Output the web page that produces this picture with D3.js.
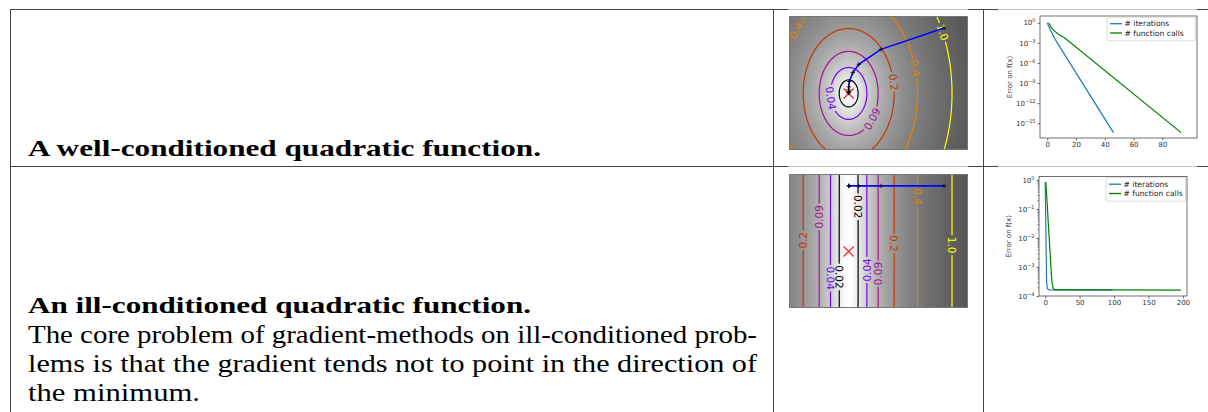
<!DOCTYPE html>
<html>
<head>
<meta charset="utf-8">
<script src="https://cdn.jsdelivr.net/npm/d3@7"></script>
<style>
  body { margin: 0; background: #fff; }
  svg { display: block; }
  .doc { font-family: "Liberation Serif", "Times New Roman", serif; }
</style>
</head>
<body>
<svg id="chart" width="1208" height="412"></svg>
<script>
// ---------------- data ----------------
var rowTitles = ["A well-conditioned quadratic function.", "An ill-conditioned quadratic function."];
var rowBody = [
  "The core problem of gradient-methods on ill-conditioned prob-",
  "lems is that the gradient tends not to point in the direction of",
  "the minimum."
];

// contour levels are taken on log(f + 0.01); f = 0.33 * (x^2 + (eps*y)^2)
var contourLevels = [-4, -3.2, -2.4, -1.6, -0.8, 0];
var contourLabels = ["0.02", "0.04", "0.09", "0.2", "0.4", "1.0"];
var conditioning = [0.7, 0.02];

// gradient descent iterates
var wellPath = [[1.6, 1.1], [0.54, 0.74], [0.17, 0.49], [0.07, 0.35], [0.01, 0.2],
  [0.001, 0.11], [0, 0.06], [0, 0.03], [0, 0.015], [0, 0.007]];
var illPath = [[1.6, 1.1], [0.54, 1.1], [0.17, 1.1], [0.01, 1.1], [0.002, 1.1], [0, 1.1]];

// contour label anchors: [level index, x, y] (snapped onto the contour)
var wellLabelPos = [[4, -0.92, 1.08], [5, 1.58, 1.03], [4, 1.14, 0.43], [3, 0.74, 0.19],
  [2, 0.36, -0.41], [1, -0.31, -0.08]];
var illLabelPos = [[3, -0.78, 0.19], [2, -0.5, 0.58], [0, 0.16, 0.75], [4, 1.14, 0.92],
  [3, 0.78, 0.135], [5, 1.75, 0.107], [2, 0.48, -0.37], [1, 0.29, -0.31],
  [0, -0.12, -0.43], [1, -0.26, -0.45]];

// convergence curves
var legendNames = ["# iterations", "# function calls"];
var wellIterX = [0, 1, 2, 3, 4, 5, 6, 7, 46];
var wellIterErr = [1, 3.2e-1, 1.1e-1, 4e-2, 1.4e-2, 5.6e-3, 2.2e-3, 1e-3, 4e-17];
var wellCallX = [1, 3, 5, 8, 12, 93];
var wellCallErr = [1, 1.8e-1, 6e-2, 1.8e-2, 5.5e-3, 4e-17];
var illIterX = [0, 1, 2, 3, 4, 6, 98];
var illIterErr = [0.85, 2e-2, 3.2e-4, 1.9e-4, 1.7e-4, 1.62e-4, 1.6e-4];
var illCallX = [1, 3, 5, 7, 9, 10, 12, 14, 197];
var illCallErr = [0.85, 0.135, 2.1e-2, 3.4e-3, 5.4e-4, 2.8e-4, 1.74e-4, 1.65e-4, 1.6e-4];

var wellXTicks = [0, 20, 40, 60, 80];
var wellYTicks = [1, 1e-3, 1e-6, 1e-9, 1e-12, 1e-15];
var illXTicks = [0, 50, 100, 150, 200];
var illYTicks = [1, 1e-1, 1e-2, 1e-3, 1e-4];

// ---------------- drawing ----------------
var svg = d3.select("#chart");
var defs = svg.append("defs");

// table rules
var ink = "#444", faint = "#c4c4c4";
[9, 166].forEach(function(y) {
  svg.append("line").attr("x1", 10).attr("x2", 1208).attr("y1", y + 0.5).attr("y2", y + 0.5)
    .attr("stroke", ink).attr("stroke-width", 1);
  [[788, 968], [998, 1197]].forEach(function(s) {
    svg.append("line").attr("x1", s[0]).attr("x2", s[1]).attr("y1", y + 0.5).attr("y2", y + 0.5)
      .attr("stroke", faint).attr("stroke-width", 1);
  });
});
[10, 773, 983].forEach(function(x) {
  svg.append("line").attr("x1", x + 0.5).attr("x2", x + 0.5).attr("y1", 9).attr("y2", 412)
    .attr("stroke", ink).attr("stroke-width", 1);
});

// table text
var tg = svg.append("g").attr("class", "doc").attr("fill", "#000");
tg.append("text").attr("x", 28).attr("y", 156).attr("font-weight", "bold").attr("font-size", 23.5)
  .attr("textLength", 513).attr("lengthAdjust", "spacingAndGlyphs").text(rowTitles[0]);
tg.append("text").attr("x", 28).attr("y", 313).attr("font-weight", "bold").attr("font-size", 23.5)
  .attr("textLength", 503).attr("lengthAdjust", "spacingAndGlyphs").text(rowTitles[1]);
var bodyWidths = [729, 729, 172];
rowBody.forEach(function(s, i) {
  tg.append("text").attr("x", 28).attr("y", 343 + i * 29).attr("font-size", 24.5)
    .attr("textLength", bodyWidths[i]).attr("lengthAdjust", "spacingAndGlyphs").text(s);
});

function gnuplot(t) {
  var r = Math.sqrt(t), g = t * t * t, b = Math.max(0, Math.sin(2 * Math.PI * t));
  return d3.rgb(255 * r, 255 * g, 255 * b).formatHex();
}

function drawContourPanel(id, eps, path, labelPos, box) {
  var g = svg.append("g");
  var sx = d3.scaleLinear().domain([-1, 2]).range([box.x, box.x + box.w]);
  var sy = d3.scaleLinear().domain([-0.95, 1.3]).range([box.y + box.h, box.y]);
  var f = function(x, y) { return 0.33 * (x * x + eps * eps * y * y); };
  var logz = function(x, y) { return Math.log(f(x, y) + 0.01); };

  // grey background (gray_r, vmax = min + 1.5 * ptp)
  var sample = [];
  for (var i = 0; i < 100; i++) for (var j = 0; j < 100; j++)
    sample.push(logz(-1 + i * 3 / 99, -0.95 + j * 2.25 / 99));
  var vmin = d3.min(sample), vmax = vmin + 1.5 * (d3.max(sample) - vmin);
  var canvas = document.createElement("canvas");
  canvas.width = box.w; canvas.height = box.h;
  var ctx = canvas.getContext("2d");
  var img = ctx.createImageData(box.w, box.h);
  for (var py = 0; py < box.h; py++) {
    for (var px = 0; px < box.w; px++) {
      var v = logz(sx.invert(box.x + px + 0.5), sy.invert(box.y + py + 0.5));
      var c = Math.round(255 * (1 - (v - vmin) / (vmax - vmin)));
      var k = 4 * (py * box.w + px);
      img.data[k] = c; img.data[k + 1] = c; img.data[k + 2] = c; img.data[k + 3] = 255;
    }
  }
  ctx.putImageData(img, 0, 0);
  g.append("image").attr("x", box.x).attr("y", box.y).attr("width", box.w).attr("height", box.h)
    .attr("preserveAspectRatio", "none").attr("href", canvas.toDataURL());

  defs.append("clipPath").attr("id", id + "-clip").append("rect")
    .attr("x", box.x).attr("y", box.y).attr("width", box.w).attr("height", box.h);

  // contour lines
  var nx = 300, ny = 230, gx0 = -1.2, gx1 = 2.2, gy0 = 1.5, gy1 = -1.15;
  var dx = (gx1 - gx0) / (nx - 1), dy = (gy1 - gy0) / (ny - 1);
  var values = new Float64Array(nx * ny);
  for (var jj = 0; jj < ny; jj++) for (var ii = 0; ii < nx; ii++)
    values[jj * nx + ii] = logz(gx0 + ii * dx, gy0 + jj * dy);
  var contours = d3.contours().size([nx, ny]).thresholds(contourLevels)(values);
  var proj = d3.geoTransform({ point: function(a, b) {
    this.stream.point(sx(gx0 + (a - 0.5) * dx), sy(gy0 + (b - 0.5) * dy));
  }});
  var geo = d3.geoPath(proj);
  var lvlColor = d3.scaleLinear().domain(d3.extent(contourLevels)).range([0, 1]);

  var mask = defs.append("mask").attr("id", id + "-mask").attr("maskUnits", "userSpaceOnUse")
    .attr("x", box.x).attr("y", box.y).attr("width", box.w).attr("height", box.h);
  mask.append("rect").attr("x", box.x).attr("y", box.y).attr("width", box.w).attr("height", box.h).attr("fill", "white");

  g.append("g").attr("clip-path", "url(#" + id + "-clip)").append("g").attr("mask", "url(#" + id + "-mask)")
    .selectAll("path").data(contours).join("path")
    .attr("d", geo).attr("fill", "none")
    .attr("stroke", function(d) { return gnuplot(lvlColor(d.value)); })
    .attr("stroke-width", 1.2);

  // inline labels
  var kx = sx(1) - sx(0), ky = sy(0) - sy(1);
  var lg = g.append("g").attr("clip-path", "url(#" + id + "-clip)")
    .attr("font-family", "'DejaVu Sans', sans-serif").attr("font-size", 10.5);
  labelPos.forEach(function(p) {
    var target = Math.exp(contourLevels[p[0]]) - 0.01, x = p[1], y = p[2];
    for (var n = 0; n < 30; n++) {
      var gxv = 0.66 * x, gyv = 0.66 * eps * eps * y;
      var st = (f(x, y) - target) / (gxv * gxv + gyv * gyv);
      x -= st * gxv; y -= st * gyv;
    }
    var gxs = 0.66 * x / kx, gys = -0.66 * eps * eps * y / ky;
    var ang = Math.atan2(gxs, -gys) * 180 / Math.PI;
    ang = (((ang + 90) % 180) + 180) % 180 - 90;
    var tx = sx(x), ty = sy(y);
    var t = lg.append("text").attr("transform", "translate(" + tx + "," + ty + ") rotate(" + ang + ")")
      .attr("text-anchor", "middle").attr("dy", "0.36em")
      .attr("fill", gnuplot(lvlColor(contourLevels[p[0]])))
      .text(contourLabels[p[0]]);
    var w = t.node().getComputedTextLength();
    mask.append("rect").attr("transform", "translate(" + tx + "," + ty + ") rotate(" + ang + ")")
      .attr("x", -w / 2 - 1.5).attr("y", -4.5).attr("width", w + 3).attr("height", 9).attr("fill", "black");
  });

  // descent path
  var pg = g.append("g").attr("clip-path", "url(#" + id + "-clip)");
  pg.append("path").attr("transform", "translate(" + sx(0) + "," + sy(0) + ")")
    .attr("d", "M-5,-5L5,5M-5,5L5,-5").attr("stroke", "#ff0000").attr("stroke-opacity", 0.85)
    .attr("stroke-width", 1.3);
  pg.append("path").datum(path)
    .attr("d", d3.line().x(function(d) { return sx(d[0]); }).y(function(d) { return sy(d[1]); }))
    .attr("fill", "none").attr("stroke", "#0000ff").attr("stroke-width", 1.6);
  pg.selectAll("path.plus").data(path).join("path").attr("class", "plus")
    .attr("transform", function(d) { return "translate(" + sx(d[0]) + "," + sy(d[1]) + ")"; })
    .attr("d", "M-2.2,0H2.2M0,-2.2V2.2").attr("stroke", "#000").attr("stroke-width", 0.8);

  g.append("rect").attr("x", box.x + 0.5).attr("y", box.y + 0.5).attr("width", box.w - 1).attr("height", box.h - 1)
    .attr("fill", "none").attr("stroke", "#777").attr("stroke-width", 1);
}

drawContourPanel("well", conditioning[0], wellPath, wellLabelPos, { x: 789, y: 16, w: 179, h: 134 });
drawContourPanel("ill", conditioning[1], illPath, illLabelPos, { x: 789, y: 174, w: 179, h: 134 });

function supExp(d) {
  var e = Math.round(Math.log10(d));
  return (e < 0 ? "\u2212" : "") + Math.abs(e);
}

function drawConvergence(c) {
  var g = svg.append("g").attr("font-family", "'DejaVu Sans', sans-serif");
  var x = d3.scaleLinear().domain(c.xDomain).range([c.left, c.right]);
  var y = d3.scaleLog().domain(c.yDomain).range([c.bottom, c.top]);
  defs.append("clipPath").attr("id", c.id + "-clip").append("rect")
    .attr("x", c.left).attr("y", c.top).attr("width", c.right - c.left).attr("height", c.bottom - c.top);
  var line = d3.line().x(function(d) { return x(d[0]); }).y(function(d) { return y(d[1]); });
  var series = [
    { name: legendNames[0], color: "#1f77b4", pts: d3.zip(c.iterX, c.iterErr) },
    { name: legendNames[1], color: "#008000", pts: d3.zip(c.callX, c.callErr) }
  ];
  g.append("g").attr("clip-path", "url(#" + c.id + "-clip)")
    .selectAll("path").data(series).join("path")
    .attr("d", function(d) { return line(d.pts); })
    .attr("fill", "none").attr("stroke", function(d) { return d.color; }).attr("stroke-width", 1.2);

  var xa = g.append("g").attr("transform", "translate(0," + c.bottom + ")")
    .call(d3.axisBottom(x).tickValues(c.xTicks).tickSize(2.5).tickPadding(2).tickFormat(d3.format("d")));
  var ya = g.append("g").attr("transform", "translate(" + c.left + ",0)")
    .call(d3.axisLeft(y).tickValues(c.yTicks).tickSize(2.5).tickPadding(2).tickFormat(""));
  var axes = [xa, ya];
  if (c.minor) {
    var minor = [];
    c.yTicks.forEach(function(t) { for (var m = 2; m < 10; m++) if (t * m < c.yDomain[1]) minor.push(t * m); });
    var ma = g.append("g").attr("transform", "translate(" + c.left + ",0)")
      .call(d3.axisLeft(y).tickValues(minor).tickSize(1.4).tickFormat(""));
    axes.push(ma);
  }
  axes.forEach(function(a) {
    a.select(".domain").remove();
    a.selectAll("line").attr("stroke", "#333").attr("stroke-width", 0.7);
    a.selectAll("text").attr("font-family", "'DejaVu Sans', sans-serif").attr("font-size", 7).attr("fill", "#333");
  });
  ya.selectAll(".tick text").each(function(d) {
    var t = d3.select(this);
    t.text("");
    t.append("tspan").text("10");
    t.append("tspan").attr("dy", -3).attr("font-size", 5).text(supExp(d));
  });

  g.append("rect").attr("x", c.left).attr("y", c.top).attr("width", c.right - c.left).attr("height", c.bottom - c.top)
    .attr("fill", "none").attr("stroke", "#333").attr("stroke-width", 0.7);

  g.append("text").attr("transform", "translate(" + c.ylabelX + "," + ((c.top + c.bottom) / 2) + ") rotate(-90)")
    .attr("text-anchor", "middle").attr("font-size", 7).attr("fill", "#333").text("Error on f(x)");

  var lg = g.append("g").attr("transform", "translate(" + c.legendX + "," + (c.top + 1.2) + ")");
  lg.append("rect").attr("width", c.right - 1.5 - c.legendX).attr("height", 23.5).attr("rx", 1.5)
    .attr("fill", "white").attr("fill-opacity", 0.85).attr("stroke", "#ccc").attr("stroke-width", 0.7);
  series.forEach(function(s, i) {
    var yy = 6.5 + i * 9.3;
    lg.append("line").attr("x1", 3).attr("x2", 15).attr("y1", yy).attr("y2", yy)
      .attr("stroke", s.color).attr("stroke-width", 1.3);
    lg.append("text").attr("x", 17.5).attr("y", yy).attr("dy", "0.35em")
      .attr("font-size", 7.6).attr("fill", "#222").text(s.name);
  });
}

drawConvergence({
  id: "convWell", left: 1040, right: 1197, top: 16, bottom: 138,
  xDomain: [-5, 104], yDomain: [Math.pow(10, -17.2), Math.pow(10, 1.0)],
  xTicks: wellXTicks, yTicks: wellYTicks, minor: false,
  iterX: wellIterX, iterErr: wellIterErr, callX: wellCallX, callErr: wellCallErr,
  ylabelX: 1012, legendX: 1107
});
drawConvergence({
  id: "convIll", left: 1039, right: 1187, top: 176.5, bottom: 296,
  xDomain: [-9, 206], yDomain: [1e-4, Math.pow(10, 0.12)],
  xTicks: illXTicks, yTicks: illYTicks, minor: true,
  iterX: illIterX, iterErr: illIterErr, callX: illCallX, callErr: illCallErr,
  ylabelX: 1011, legendX: 1106
});
</script>
</body>
</html>
